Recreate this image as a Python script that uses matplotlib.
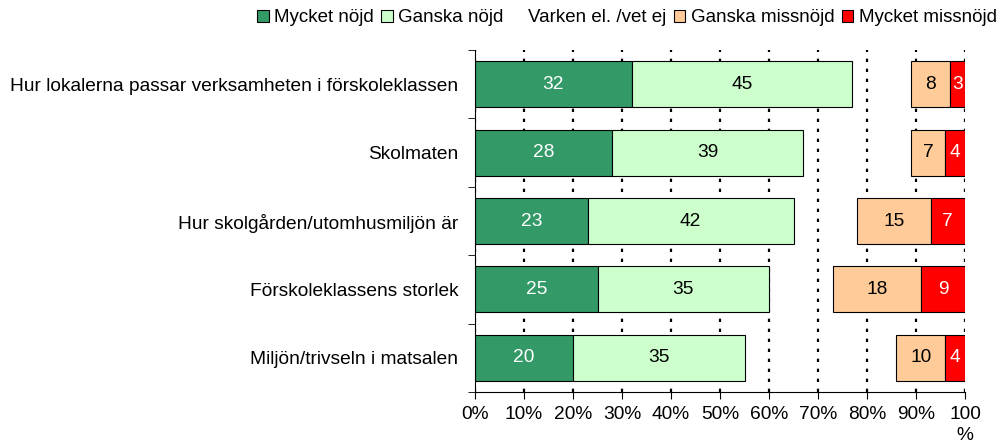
import numpy as np
import matplotlib
matplotlib.use("Agg")
from matplotlib import pyplot as plt
from matplotlib.patches import Patch

plt.rcParams['font.family'] = ['Liberation Sans', 'DejaVu Sans']

# data
categories = ["Hur lokalerna passar verksamheten i förskoleklassen",
              "Skolmaten",
              "Hur skolgården/utomhusmiljön är",
              "Förskoleklassens storlek",
              "Miljön/trivseln i matsalen"]
series_names = ["Mycket nöjd", "Ganska nöjd", "Varken el. /vet ej",
                "Ganska missnöjd", "Mycket missnöjd"]
mycket_nojd = [32, 28, 23, 25, 20]
ganska_nojd = [45, 39, 42, 35, 35]
varken = [12, 22, 13, 13, 31]
ganska_missnojd = [8, 7, 15, 18, 10]
mycket_missnojd = [3, 4, 7, 9, 4]
tick_labels = ["0%", "10%", "20%", "30%", "40%", "50%", "60%", "70%", "80%", "90%", "100\n%"]

colors = ["#339966", "#CCFFCC", "none", "#FFCC99", "#FF0000"]
text_colors = ["white", "black", None, "black", "white"]
fs = 13.8

fig = plt.figure(figsize=(9.97, 4.48), dpi=100)
ax = fig.add_axes([475/997, 1-392/448, 490/997, 342/448])

y = np.arange(len(categories))
left = np.zeros(len(categories))
all_series = [mycket_nojd, ganska_nojd, varken, ganska_missnojd, mycket_missnojd]
for vals, col, tcol in zip(all_series, colors, text_colors):
    vals = np.array(vals, dtype=float)
    if col != "none":
        bars = ax.barh(y, vals, left=left, height=0.67, color=col,
                       edgecolor="black", linewidth=0.8, zorder=2)
        for b, v in zip(bars, vals):
            ax.text(b.get_x() + b.get_width()/2, b.get_y() + b.get_height()/2,
                    "%d" % v, ha="center", va="center", color=tcol,
                    fontsize=fs, zorder=3)
    left = left + vals

ax.set_xlim(0, 100)
ax.set_ylim(len(categories) - 0.5, -0.5)
ax.set_xticks(np.arange(0, 101, 10))
ax.set_xticklabels(tick_labels, fontsize=fs, multialignment="center", linespacing=1.35)
ax.set_yticks(y)
ax.set_yticklabels(categories, fontsize=fs)
ax.set_yticks(np.arange(-0.5, len(categories)), minor=True)
ax.tick_params(axis="y", which="major", length=0, pad=12)
ax.tick_params(axis="y", which="minor", length=5, direction="out")
ax.tick_params(axis="x", length=5, direction="out", pad=5)

ax.grid(axis="x", color="black", linestyle=(0, (1.5, 3)), linewidth=1.6, zorder=0)
ax.set_axisbelow(True)
ax.spines["top"].set_visible(False)
ax.spines["right"].set_visible(False)

handles = [Patch(facecolor=c if c != "none" else "white",
                 edgecolor="black" if c != "none" else "white", linewidth=0.8)
           for c in colors]
fig.legend(handles, series_names, loc="center", bbox_to_anchor=(627/997, 1-18/448),
           ncol=5, frameon=False, fontsize=13.5, handlelength=0.6, handleheight=0.6,
           handletextpad=0.3, columnspacing=0.4)

fig.savefig("out.png", dpi=100)
